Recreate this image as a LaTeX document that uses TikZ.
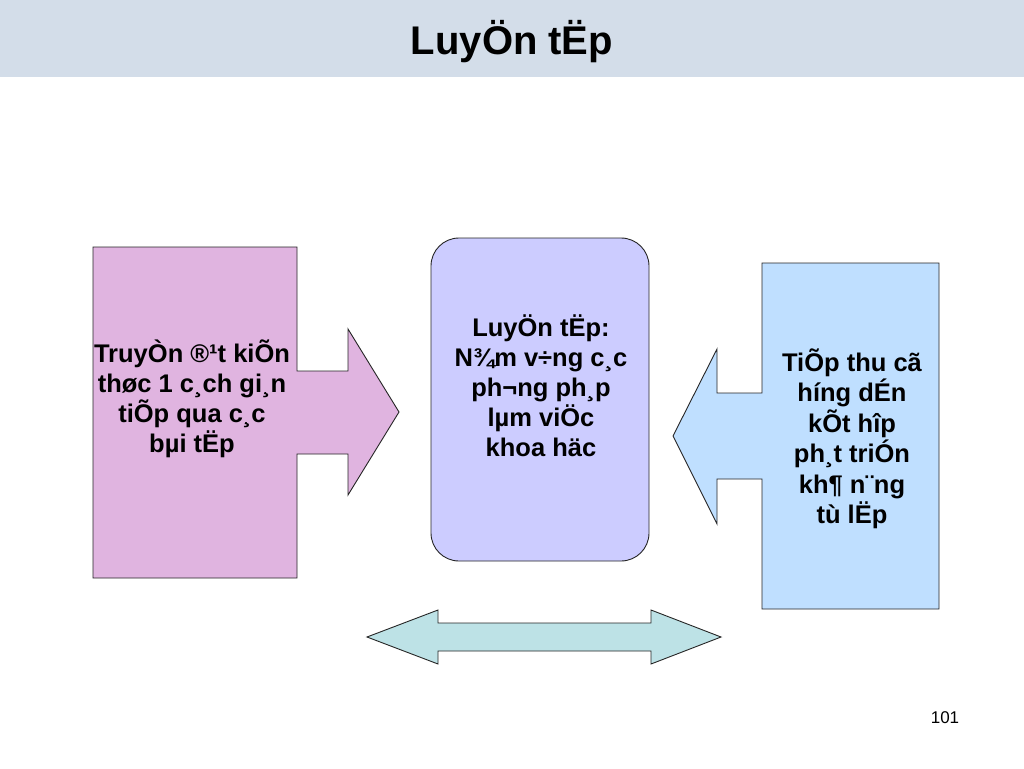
\documentclass[tikz,border=0pt]{standalone}
\usepackage{fontspec}
\setmainfont{Liberation Sans}
\definecolor{titlebar}{HTML}{D3DDE9}
\definecolor{pinkfill}{HTML}{E0B4E0}
\definecolor{lavfill}{HTML}{CCCCFF}
\definecolor{bluefill}{HTML}{BFDFFF}
\definecolor{tealfill}{HTML}{BDE2E6}
\begin{document}
\begin{tikzpicture}[x=1pt,y=-1pt,
  shapeline/.style={draw=black!85, line width=0.9pt, line join=miter},
  boxtext/.style={font=\fontsize{25.5}{30}\selectfont\bfseries, align=center, inner sep=0pt}]
\useasboundingbox (0,0) rectangle (1024,768);
\fill[white] (0,0) rectangle (1024,768);
% title bar
\fill[titlebar] (0,0) rectangle (1024,77);
\node[font=\fontsize{40}{46}\selectfont\bfseries, inner sep=0pt] (title) at (512,42) {LuyÖn tËp};
% left callout
\draw[shapeline, fill=pinkfill] (93,247) -- (297,247) -- (297,371) -- (348,371) -- (348,329) -- (399,412) -- (348,495) -- (348,454) -- (297,454) -- (297,578) -- (93,578) -- cycle;
\node[boxtext] (lefttext) at (192,399) {TruyÒn ®¹t kiÕn\\thøc 1 c¸ch gi¸n\\tiÕp qua c¸c\\bµi tËp};
% center box
\draw[shapeline, fill=lavfill, rounded corners=28pt] (431,238) rectangle (649,561);
\node[boxtext] (centertext) at (541,386) {LuyÖn tËp:\\N¾m v÷ng c¸c\\ph¬ng ph¸p\\lµm viÖc\\khoa häc};
% right callout
\draw[shapeline, fill=bluefill] (939,263) -- (762,263) -- (762,393) -- (717,393) -- (717,349) -- (673,436) -- (717,524) -- (717,479) -- (762,479) -- (762,609) -- (939,609) -- cycle;
\node[boxtext, font=\fontsize{25.5}{30.5}\selectfont\bfseries] (righttext) at (852,439) {TiÕp thu cã\\híng dÉn\\kÕt hîp\\ph¸t triÓn\\kh¶ n¨ng\\tù lËp};
% double arrow
\draw[shapeline, fill=tealfill] (367,637) -- (438,610) -- (438,623) -- (651,623) -- (651,610) -- (721,637) -- (651,664) -- (651,651) -- (438,651) -- (438,664) -- cycle;
% page number
\node[font=\fontsize{17}{19}\selectfont, inner sep=0pt] (pagenum) at (945,718) {101};
\end{tikzpicture}
\end{document}
